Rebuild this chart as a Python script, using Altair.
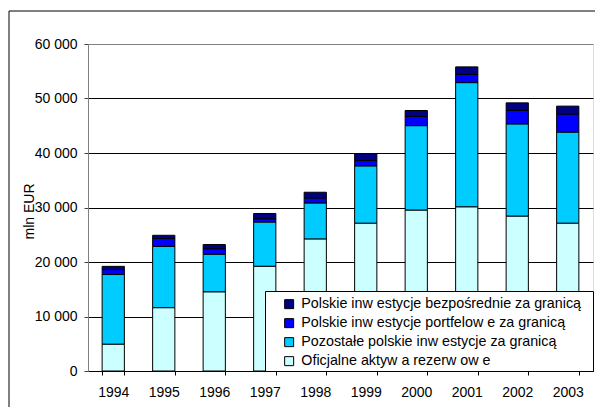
import altair as alt
import pandas as pd

years = ["1994", "1995", "1996", "1997", "1998", "1999", "2000", "2001", "2002", "2003"]
official = [4900, 11600, 14500, 19200, 24200, 27100, 29500, 30100, 28400, 27100]
other = [12800, 11250, 6900, 8100, 6600, 10500, 15500, 22800, 16900, 16700]
portfolio = [900, 1450, 1000, 600, 900, 1000, 1700, 1500, 2500, 3300]
direct = [600, 600, 800, 1000, 1100, 1300, 1100, 1400, 1400, 1500]

series_names = [
    "Polskie inw estycje bezpośrednie za granicą",
    "Polskie inw estycje portfelow e za granicą",
    "Pozostałe polskie inw estycje za granicą",
    "Oficjalne aktyw a rezerw ow e",
]
series_values = [direct, portfolio, other, official]
series_colors = ["#000080", "#0000FF", "#00CCFF", "#CCFFFF"]
stack_order = [3, 2, 1, 0]

rows = []
for name, vals, order in zip(series_names, series_values, stack_order):
    for y, v in zip(years, vals):
        rows.append({"rok": y, "seria": name, "wartosc": v, "kolejnosc": order})
df = pd.DataFrame(rows)

FONT = "Liberation Sans"

bars = alt.Chart(df).mark_bar(stroke="black", strokeWidth=1).encode(
    x=alt.X(
        "rok:N",
        sort=years,
        scale=alt.Scale(paddingInner=0.56, paddingOuter=0.28),
        axis=alt.Axis(
            title=None, labelAngle=0, tickBand="extent", domainColor="black",
            tickColor="black", tickSize=4, labelBaseline="alphabetic",
            labelPadding=21, labelFontSize=14, labelFont=FONT, labelColor="black",
            grid=False,
        ),
    ),
    y=alt.Y(
        "wartosc:Q",
        stack="zero",
        scale=alt.Scale(domain=[0, 60000], nice=False),
        axis=alt.Axis(
            values=[0, 10000, 20000, 30000, 40000, 50000, 60000],
            labelExpr="replace(format(datum.value, ','), ',', ' ')",
            gridColor={"condition": {"test": "datum.value >= 60000", "value": "#808080"}, "value": "black"},
            domainColor="#808080", tickColor="#404040", tickSize=4,
            labelPadding=7, labelFontSize=14, labelFont=FONT, labelColor="black",
            title="mln EUR", titleFontSize=14, titleFont=FONT, titleFontWeight="normal",
            titleColor="black", titleX=-55, titleY=167, titleAngle=270,
            titleBaseline="alphabetic", titleAlign="center",
        ),
    ),
    color=alt.Color(
        "seria:N",
        scale=alt.Scale(domain=series_names, range=series_colors),
        legend=alt.Legend(
            orient="none", legendX=177, legendY=247, title=None, padding=6,
            symbolType="square", symbolSize=81, symbolStrokeColor="black",
            symbolStrokeWidth=1, symbolOffset=11, labelFontSize=14.3, labelFont=FONT,
            labelColor="black", labelOffset=5, rowPadding=4, labelLimit=400,
        ),
    ),
    order=alt.Order("kolejnosc:Q", sort="ascending"),
)

frame_data = alt.Data(values=[{"k": 1}])
left_line = alt.Chart(frame_data).mark_rule(color="black", strokeWidth=1).encode(
    x=alt.value(-79), y=alt.value(-33), y2=alt.value(363)
)
top_line = alt.Chart(frame_data).mark_rule(color="black", strokeWidth=1).encode(
    x=alt.value(-79), x2=alt.value(507), y=alt.value(-33)
)
legend_box = alt.Chart(frame_data).mark_rect(
    fill="white", stroke="black", strokeWidth=1
).encode(
    x=alt.value(177.5), x2=alt.value(505.5), y=alt.value(247.5), y2=alt.value(327.5)
)

chart = alt.layer(bars, legend_box, left_line, top_line).properties(
    width=505,
    height=327,
    autosize=alt.AutoSizeParams(type="none"),
    padding={"left": 80, "top": 36, "right": 2, "bottom": 36},
).configure_view(stroke="#808080", strokeWidth=1).configure(background="white")

chart.save("out.html", embed_options={"renderer": "svg", "actions": False})
